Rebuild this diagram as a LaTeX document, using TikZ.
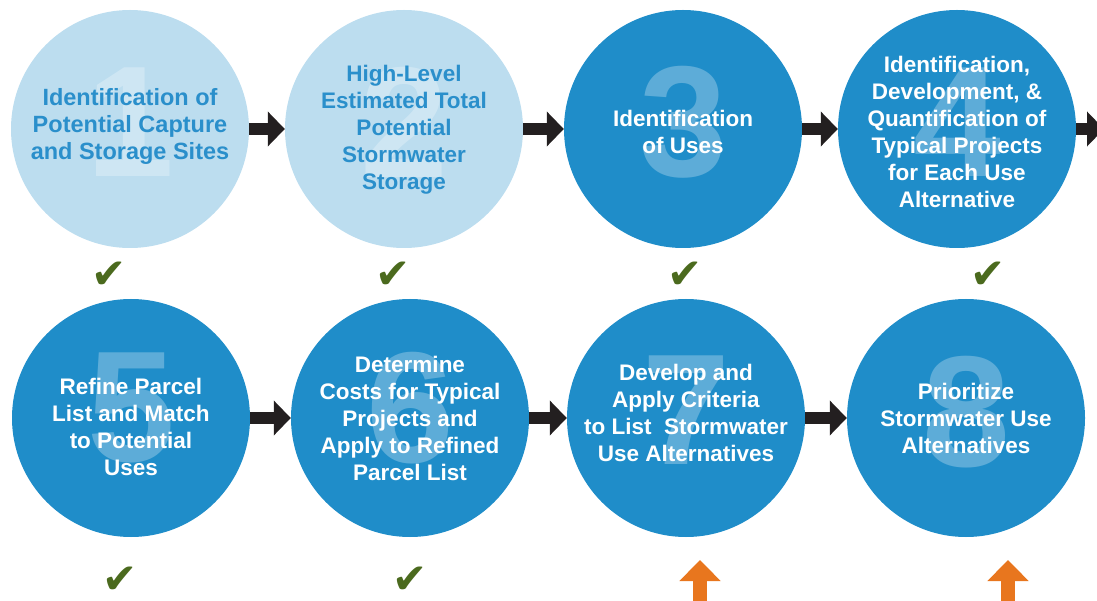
\documentclass[tikz,border=0pt]{standalone}
\usepackage{fontspec}
\setmainfont{Liberation Sans}
\newfontfamily\symfont{DejaVu Sans}
\usetikzlibrary{arrows.meta,calc}
\definecolor{darkblue}{HTML}{1F8DC9}
\definecolor{lightblue}{HTML}{BCDDEF}
\definecolor{textblue}{HTML}{2A8FCB}
\definecolor{checkgreen}{HTML}{4B6A1E}
\definecolor{pendorange}{HTML}{E8761E}
\definecolor{arrowblack}{HTML}{231F20}

\begin{document}
\begin{tikzpicture}[x=1pt,y=-1pt]
\path [use as bounding box] (0,0) rectangle (1097,601);
\tikzstyle{stepdisc} = [circle, inner sep=0pt, minimum size=238pt]
\tikzstyle{done} = [stepdisc, fill=lightblue]
\tikzstyle{todo} = [stepdisc, fill=darkblue]
\tikzstyle{bignum} = [font=\fontsize{158}{158}\selectfont\bfseries, text=white, text opacity=0.28]
\tikzstyle{steptext} = [align=center, font=\fontsize{22.5}{27}\selectfont\bfseries, text=white]
\tikzstyle{flow} = [draw=arrowblack, line width=12pt, -{Triangle[length=17pt,width=34pt]}]
\tikzstyle{tick} = [font=\symfont\fontsize{42}{42}\selectfont, text=checkgreen, inner sep=0pt]
\tikzstyle{pending} = [draw=pendorange, line width=14pt, -{Triangle[length=21pt,width=40pt]}]
\coordinate (P1) at (130,129);
\coordinate (P2) at (404,129);
\coordinate (P3) at (683,129);
\coordinate (P4) at (957,129);
\coordinate (P5) at (131,418);
\coordinate (P6) at (410,418);
\coordinate (P7) at (686,418);
\coordinate (P8) at (966,418);
% first row
\node[done] (c1) at (P1) {};
\node[bignum] (n1) at ($(P1)+(0,-7)$) {1};
\node[steptext, text=textblue, font=\fontsize{23.5}{27}\selectfont\bfseries] (t1) at ($(P1)+(0,-3)$) {Identification of\\Potential Capture\\and Storage Sites};
\node[done] (c2) at (P2) {};
\node[bignum] (n2) at ($(P2)+(0,-7)$) {2};
\node[steptext, text=textblue] (t2) at ($(P2)+(0,1)$) {High-Level\\Estimated Total\\Potential\\Stormwater\\Storage};
\node[todo] (c3) at (P3) {};
\node[bignum] (n3) at ($(P3)+(0,-7)$) {3};
\node[steptext] (t3) at ($(P3)+(0,3)$) {Identification\\of Uses};
\node[todo] (c4) at (P4) {};
\node[bignum] (n4) at ($(P4)+(0,-7)$) {4};
\node[steptext] (t4) at ($(P4)+(0,3)$) {Identification,\\Development, \&\\Quantification of\\Typical Projects\\for Each Use\\Alternative};
% second row
\node[todo] (c5) at (P5) {};
\node[bignum] (n5) at ($(P5)+(0,-10)$) {5};
\node[steptext] (t5) at ($(P5)+(0,9)$) {Refine Parcel\\List and Match\\to Potential\\Uses};
\node[todo] (c6) at (P6) {};
\node[bignum] (n6) at ($(P6)+(0,-10)$) {6};
\node[steptext] (t6) at (P6) {Determine\\Costs for Typical\\Projects and\\Apply to Refined\\Parcel List};
\node[todo] (c7) at (P7) {};
\node[bignum] (n7) at ($(P7)+(0,-8)$) {7};
\node[steptext] (t7) at ($(P7)+(0,-5)$) {Develop and\\Apply Criteria\\to List~~Stormwater\\Use Alternatives};
\node[todo] (c8) at (P8) {};
\node[bignum] (n8) at ($(P8)+(0,-6)$) {8};
\node[steptext] (t8) at (P8) {Prioritize\\Stormwater Use\\Alternatives};
% connectors
\coordinate (out4) at (1104,129);
\draw[flow] (c1) -- (c2);
\draw[flow] (c2) -- (c3);
\draw[flow] (c3) -- (c4);
\draw[flow] (c4) -- (out4);
\draw[flow] (c5) -- (c6);
\draw[flow] (c6) -- (c7);
\draw[flow] (c7) -- (c8);
% status marks
\node[tick] (k1) at (109,275) {✔};
\node[tick] (k2) at (393,275) {✔};
\node[tick] (k3) at (685,275) {✔};
\node[tick] (k4) at (988,275) {✔};
\node[tick] (k5) at (120,580) {✔};
\node[tick] (k6) at (410,580) {✔};
\coordinate (u7) at (700,612);
\coordinate (u8) at (1008,612);
\draw[pending] (u7) -- ++(0,-52);
\draw[pending] (u8) -- ++(0,-52);
\end{tikzpicture}
\end{document}
